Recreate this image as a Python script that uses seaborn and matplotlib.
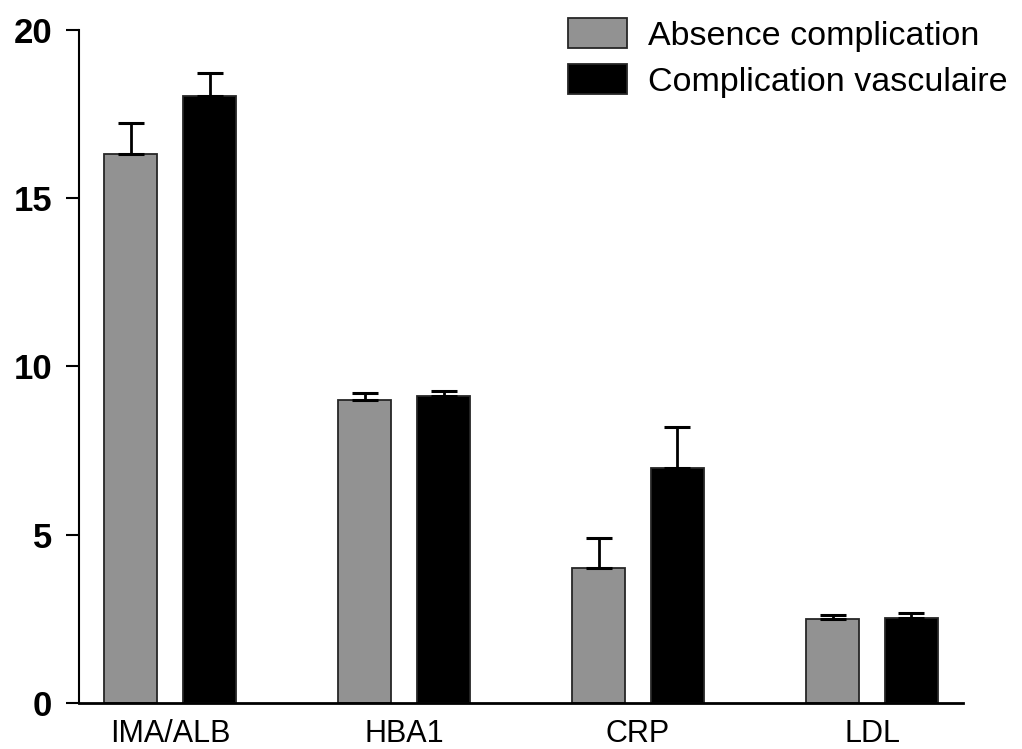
import matplotlib
matplotlib.use("Agg")
import matplotlib.pyplot as plt
import seaborn as sns
import pandas as pd

# values
markers = ["IMA/ALB", "HBA1", "CRP", "LDL"]
groups = ["Absence complication", "Complication vasculaire"]
absence_mean = [16.3, 9.0, 4.0, 2.5]
absence_err = [0.94, 0.2, 0.9, 0.12]
vasc_mean = [18.03, 9.12, 6.99, 2.52]
vasc_err = [0.68, 0.14, 1.2, 0.15]
yticks = [0, 5, 10, 15, 20]

df = pd.DataFrame({
    "marker": markers * 2,
    "group": [groups[0]] * 4 + [groups[1]] * 4,
    "value": absence_mean + vasc_mean,
})

sns.set_style("ticks", {"axes.edgecolor": "black", "text.color": "black",
                        "xtick.color": "black", "ytick.color": "black"})
plt.rcParams["font.family"] = ["Liberation Sans", "DejaVu Sans"]

fig = plt.figure(figsize=(10.22, 7.49), dpi=100)
ax = fig.add_axes([0.0773, 0.0614, 0.865, 0.8986])

sns.barplot(data=df, x="marker", y="value", hue="group", order=markers,
            hue_order=groups, palette=["#929292", "#000000"], width=0.675,
            gap=0.33, errorbar=None, edgecolor="#262626", linewidth=1.3,
            saturation=1, ax=ax)

# upper-only error bars with caps
for cont, err in zip(ax.containers, [absence_err, vasc_err]):
    xs = [b.get_x() + b.get_width() / 2 for b in cont]
    hs = [b.get_height() for b in cont]
    ax.errorbar(xs, hs, yerr=[[0] * len(err), err], fmt="none", ecolor="black",
                elinewidth=2.0, capsize=9.5, capthick=2.2, zorder=1)

ax.set_xlim(-0.389, 3.389)
ax.set_ylim(0, 20)
ax.set_yticks(yticks)
ax.set_yticklabels([str(t) for t in yticks], fontsize=25, fontweight="bold")
ax.tick_params(axis="y", length=9.5, width=1.5, pad=10)
ax.tick_params(axis="x", length=0, pad=11.5, labelsize=22)
ax.set_xlabel("")
ax.set_ylabel("")
sns.despine(ax=ax)
ax.spines["left"].set_linewidth(1.5)
ax.spines["bottom"].set_linewidth(2.0)

sns.move_legend(ax, loc="upper left", bbox_to_anchor=(568 / 1022, 1 - 18 / 749),
                bbox_transform=fig.transFigure, frameon=False, title=None,
                fontsize=24.5, handlelength=1.72, handleheight=1.0,
                handletextpad=0.62, labelspacing=0.35, borderpad=0,
                borderaxespad=0)

fig.savefig("out.png", dpi=100)
